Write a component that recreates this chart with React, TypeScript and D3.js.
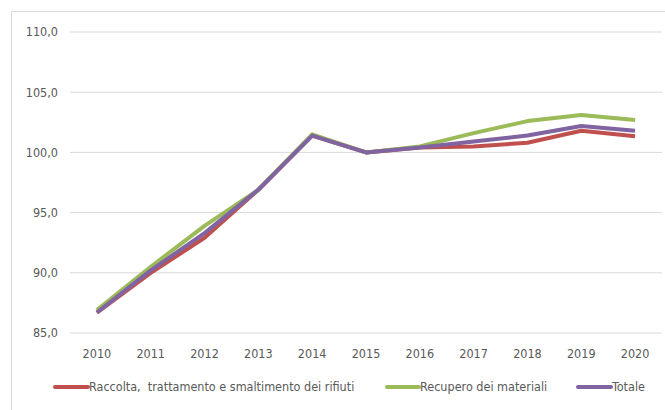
import React from "react";
import * as d3 from "d3";

const years = ["2010", "2011", "2012", "2013", "2014", "2015", "2016", "2017", "2018", "2019", "2020"];
const raccolta = [86.7, 90.0, 92.9, 96.9, 101.4, 100.0, 100.4, 100.5, 100.8, 101.8, 101.35];
const recupero = [86.9, 90.5, 93.9, 96.9, 101.5, 100.0, 100.5, 101.6, 102.6, 103.1, 102.7];
const totale = [86.7, 90.2, 93.3, 96.9, 101.4, 100.0, 100.4, 100.9, 101.4, 102.2, 101.8];
const yTicks = [85, 90, 95, 100, 105, 110];

const series = [
  { name: "Raccolta,  trattamento e smaltimento dei rifiuti", values: raccolta, color: "#c0504d" },
  { name: "Recupero dei materiali", values: recupero, color: "#9bbb59" },
  { name: "Totale", values: totale, color: "#8064a2" },
];

const W = 665;
const H = 410;
const font = "'Liberation Sans Narrow', 'Arial Narrow', 'DejaVu Sans Condensed', sans-serif";
const fs = 12.5;

export default function App() {
  const x = d3.scaleBand().domain(years).range([70, 662]);
  const y = d3.scaleLinear().domain([85, 110]).range([333, 32]);
  const line = d3
    .line<number>()
    .x((_, i) => (x(years[i]) as number) + x.bandwidth() / 2)
    .y((d) => y(d));

  // legend layout: swatch start, text start
  const legend = [
    { sx: 55, tx: 89 },
    { sx: 387, tx: 420 },
    { sx: 578, tx: 612 },
  ];

  return (
    <svg
      width={W}
      height={H}
      style={{ position: "absolute", left: 0, top: 0, background: "#fff" }}
      fontFamily={font}
    >
      <rect x={11.5} y={11.5} width={700} height={420} fill="none" stroke="#d9d9d9" />
      {yTicks.map((t) => (
        <g key={t}>
          <line x1={70} x2={662} y1={y(t)} y2={y(t)} stroke="#d9d9d9" strokeWidth={1} />
          <text x={58} y={y(t)} dy="0.35em" textAnchor="end" fontSize={fs} fill="#595959">
            {d3.format(".1f")(t).replace(".", ",")}
          </text>
        </g>
      ))}
      {years.map((yr) => (
        <text
          key={yr}
          x={(x(yr) as number) + x.bandwidth() / 2}
          y={354}
          dy="0.35em"
          textAnchor="middle"
          fontSize={fs}
          fill="#595959"
        >
          {yr}
        </text>
      ))}
      {series.map((s) => (
        <path
          key={s.name}
          d={line(s.values) || ""}
          fill="none"
          stroke={s.color}
          strokeWidth={4}
          strokeLinejoin="round"
        />
      ))}
      {series.map((s, i) => (
        <g key={s.name}>
          <line
            x1={legend[i].sx}
            x2={legend[i].tx - 1}
            y1={387}
            y2={387}
            stroke={s.color}
            strokeWidth={4}
            strokeLinecap="round"
          />
          <text
            x={legend[i].tx}
            y={387}
            dy="0.35em"
            fontSize={fs}
            fill="#595959"
            style={{ whiteSpace: "pre" }}
          >
            {s.name}
          </text>
        </g>
      ))}
    </svg>
  );
}
